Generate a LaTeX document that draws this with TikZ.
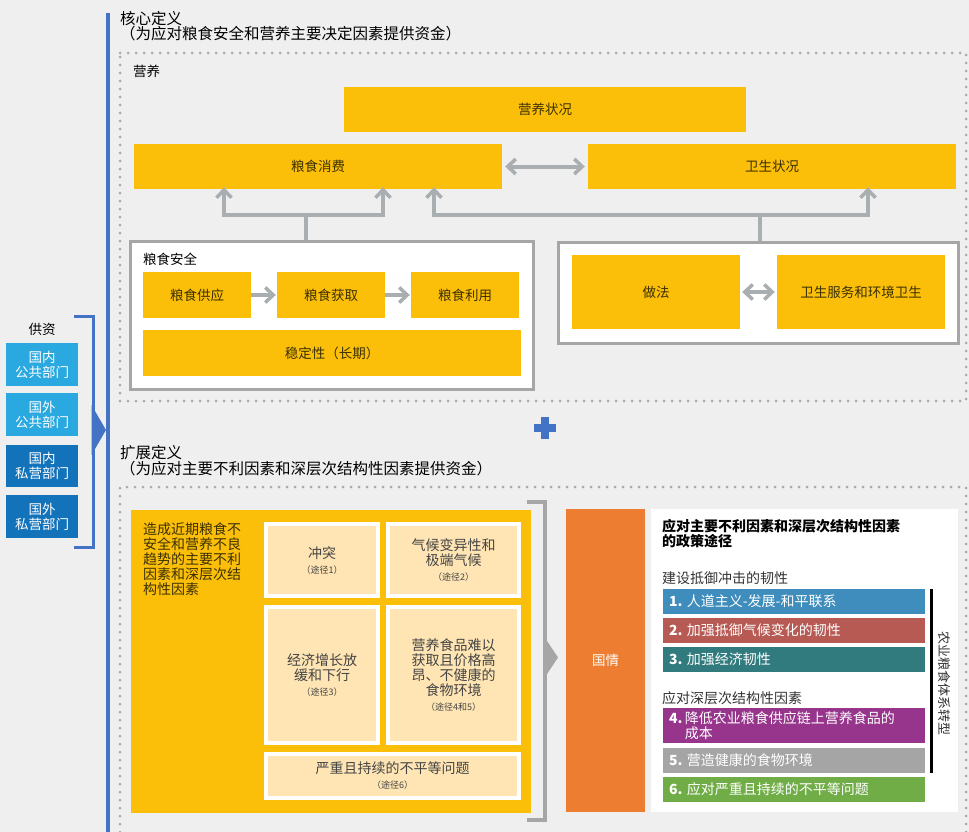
\documentclass[tikz,border=0pt]{standalone}
\usepackage{fontspec}
\setmainfont{Noto Sans CJK SC}
\usetikzlibrary{arrows.meta}
\definecolor{bg}{HTML}{EFEFEF}
\definecolor{gold}{HTML}{FBBF0A}
\definecolor{goldtext}{HTML}{3C3000}
\definecolor{peach}{HTML}{FFE5B4}
\definecolor{peachtext}{HTML}{444444}
\definecolor{arrgrey}{HTML}{A9AEB1}
\definecolor{boxgrey}{HTML}{A6A6A6}
\definecolor{dotgrey}{HTML}{AAAAAA}
\definecolor{fblue}{HTML}{4472C4}
\definecolor{lblue}{HTML}{2AA8E0}
\definecolor{dblue}{HTML}{1272BA}
\definecolor{orng}{HTML}{ED7D31}
\definecolor{cbar1}{HTML}{3E8DBC}
\definecolor{cbar2}{HTML}{B65A53}
\definecolor{cbar3}{HTML}{317B7F}
\definecolor{cbar4}{HTML}{97358C}
\definecolor{cbar5}{HTML}{A5A5A5}
\definecolor{cbar6}{HTML}{70AD47}
\definecolor{darktext}{HTML}{333333}
\newcommand{\pth}[1]{\\[0pt]{\fontsize{9}{10}\selectfont （#1）}}
\tikzset{
  barb/.tip={Straight Barb[length=8pt,width=15pt,line width=3.5pt]},
  ybox/.style={fill=gold, text=goldtext, inner sep=0pt, font=\fontsize{13.5}{15}\selectfont, align=center},
  pbox/.style={fill=peach, draw=white, line width=4pt, text=peachtext, inner sep=0pt, font=\fontsize{14}{15}\selectfont, align=center},
  gframe/.style={fill=white, draw=boxgrey, line width=3pt, inner sep=0pt},
  garrow/.style={draw=arrgrey, line width=4pt, -barb},
  gdarrow/.style={draw=arrgrey, line width=4pt, barb-barb},
  gline/.style={draw=arrgrey, line width=4pt},
  dotline/.style={draw=dotgrey, line width=3pt, line cap=round, dash pattern=on 0pt off 8pt},
  fundbox/.style={inner sep=0pt, minimum width=72pt, minimum height=43pt, text=white, font=\fontsize{13.5}{15}\selectfont, align=center},
  bar/.style={inner sep=0pt, minimum width=262pt, minimum height=25pt},
  bartext/.style={anchor=west, inner sep=0pt, text=white, font=\fontsize{14}{15}\selectfont, align=left},
  title/.style={anchor=west, inner sep=0pt, text=black, font=\fontsize{15.5}{15.5}\selectfont},
  plain/.style={anchor=west, inner sep=0pt, text=darktext, font=\fontsize{13.5}{15}\selectfont},
}
\begin{document}
\begin{tikzpicture}[x=1pt,y=-1pt]
\fill[bg] (0,0) rectangle (969,832);
\useasboundingbox (0,0) rectangle (969,832);

% blue vertical line
\draw[fblue, line width=4pt] (107.5,13) -- (107.5,832);

% titles
\node[title] (t1a) at (120,18.5) {核心定义};
\node[title] (t1b) at (120,34) {（为应对粮食安全和营养主要决定因素提供资金）};
\node[title] (t2a) at (120,453) {扩展定义};
\node[title] (t2b) at (120,468.5) {（为应对主要不利因素和深层次结构性因素提供资金）};

% dotted frames
\draw[dotline] (120,53) -- (966,53) -- (966,401) -- (120,401) -- cycle;
\draw[dotline] (966,840) -- (966,487) -- (120,487) -- (120,840);

\node[plain, text=black] (nlab) at (133,71) {营养};

% nutrition row
\node[ybox, minimum width=402pt, minimum height=45pt] (nutr) at (545,109.5) {营养状况};
\node[ybox, minimum width=368pt, minimum height=45pt] (cons) at (318,166.5) {粮食消费};
\node[ybox, minimum width=368pt, minimum height=45pt] (hlth) at (772,166.5) {卫生状况};
\draw[gdarrow] ([xshift=3pt]cons.east) -- ([xshift=-3pt]hlth.west);

% food security frame
\node[gframe, minimum width=403pt, minimum height=148pt] (fsbox) at (331.5,315) {};
\node[plain, text=black] (fslab) at (143,259) {粮食安全};
\node[ybox, minimum width=108pt, minimum height=46pt] (supply) at (197,295) {粮食供应};
\node[ybox, minimum width=108pt, minimum height=46pt] (access) at (331,295) {粮食获取};
\node[ybox, minimum width=108pt, minimum height=46pt] (util) at (465,295) {粮食利用};
\node[ybox, minimum width=378pt, minimum height=46pt] (stab) at (332,353) {稳定性（长期）};
\draw[garrow] (supply.east) -- ([xshift=-1pt]access.west);
\draw[garrow] (access.east) -- ([xshift=-1pt]util.west);

% practices frame
\node[gframe, minimum width=400pt, minimum height=101pt] (prbox) at (758,292.5) {};
\node[ybox, minimum width=168pt, minimum height=74pt] (prac) at (656,292) {做法};
\node[ybox, minimum width=168pt, minimum height=74pt] (wash) at (861,292) {卫生服务和环境卫生};
\draw[gdarrow] ([xshift=2pt]prac.east) -- ([xshift=-2pt]wash.west);

% up arrows
\coordinate (fj) at (306,215);
\coordinate (pj) at (760,215);
\draw[gline] (fsbox.north -| fj) -- (fj);
\draw[gdarrow] ([yshift=2pt]cons.south -| 224,0) -- (224,215) -- (383,215) -- ([yshift=2pt]cons.south -| 383,0);
\draw[gline] (prbox.north -| pj) -- (pj);
\draw[gdarrow] ([yshift=2pt]cons.south -| 434,0) -- (434,215) -- (868,215) -- ([yshift=2pt]hlth.south -| 868,0);

% plus
\fill[fblue] (534,424) rectangle (556,432);
\fill[fblue] (541,417) rectangle (549,439);

% funding panel
\node[plain, anchor=center, text=black] (fund) at (42,329) {供资};
\node[fundbox, fill=lblue] (f1) at (42,364.5) {国内\\公共部门};
\node[fundbox, fill=lblue] (f2) at (42,414.5) {国外\\公共部门};
\node[fundbox, fill=dblue, minimum height=42pt] (f3) at (42,465.5) {国内\\私营部门};
\node[fundbox, fill=dblue] (f4) at (42,516.5) {国外\\私营部门};
\draw[fblue, line width=3pt] (74,316) -- (93,316) -- (93,547) -- (74,547);
\fill[fblue] (91.5,405) -- (106,430) -- (91.5,455) -- cycle;

% lower section: causes
\node[fill=gold, inner sep=0pt, minimum width=400pt, minimum height=303pt] (cause) at (331,661.5) {};
\node[anchor=north west, inner sep=0pt, text=goldtext, align=left, font=\fontsize{14}{15}\selectfont] (causetxt) at (143,522.5) {造成近期粮食不\\安全和营养不良\\趋势的主要不利\\因素和深层次结\\构性因素};
\node[pbox, minimum width=112pt, minimum height=72pt] (p1) at (322,560) {冲突\pth{途径1}};
\node[pbox, minimum width=131pt, minimum height=72pt] (p2) at (453.5,560) {气候变异性和\\极端气候\pth{途径2}};
\node[pbox, minimum width=112pt, minimum height=136pt] (p3) at (322,675) {经济增长放\\缓和下行\pth{途径3}};
\node[pbox, minimum width=131pt, minimum height=136pt] (p4) at (453.5,675) {营养食品难以\\获取且价格高\\昂、不健康的\\食物环境\pth{途径4和5}};
\node[pbox, minimum width=253pt, minimum height=44pt] (p6) at (392.5,776) {严重且持续的不平等问题\pth{途径6}};

% grey bracket
\draw[boxgrey, line width=4pt] (527,502) -- (545,502) -- (545,820) -- (527,820);
\fill[boxgrey] (543,635) -- (558,657.5) -- (543,680) -- cycle;

% country context
\node[fill=orng, inner sep=0pt, minimum width=79pt, minimum height=303pt, text=white, font=\fontsize{13.5}{15}\selectfont] (ctx) at (605.5,660.5) {国情};

% policy panel
\node[fill=white, inner sep=0pt, minimum width=307pt, minimum height=303pt] (pol) at (804.5,660.5) {};
\node[anchor=north west, inner sep=0pt, text=black, align=left, font=\fontsize{14}{15}\bfseries\selectfont] (poltitle) at (662,519.5) {应对主要不利因素和深层次结构性因素\\的政策途径};
\node[plain, font=\fontsize{14}{15}\selectfont] (sub1) at (662,578) {建设抵御冲击的韧性};
\node[plain, font=\fontsize{14}{15}\selectfont] (sub2) at (662,698) {应对深层次结构性因素};

\node[bar, fill=cbar1] (b1) at (794,601.5) {};
\node[bar, fill=cbar2] (b2) at (794,630.5) {};
\node[bar, fill=cbar3] (b3) at (794,659.5) {};
\node[bar, fill=cbar4, minimum height=35pt] (b4) at (794,725.5) {};
\node[bar, fill=cbar5] (b5) at (794,760.5) {};
\node[bar, fill=cbar6] (b6) at (794,789.5) {};
\node[bartext] (bt1) at (669,601.5) {\textbf{1.} 人道主义-发展-和平联系};
\node[bartext] (bt2) at (669,630.5) {\textbf{2.} 加强抵御气候变化的韧性};
\node[bartext] (bt3) at (669,659.5) {\textbf{3.} 加强经济韧性};
\node[bartext] (bt4) at (669,725.5) {\textbf{4.}\,降低农业粮食供应链上营养食品的\\\hphantom{\textbf{4.}\,}成本};
\node[bartext] (bt5) at (669,760.5) {\textbf{5.} 营造健康的食物环境};
\node[bartext] (bt6) at (669,789.5) {\textbf{6.} 应对严重且持续的不平等问题};

\draw[black, line width=3pt] (931,589) -- (931,773);
\node[rotate=-90, inner sep=0pt, text=darktext, font=\fontsize{13}{15}\selectfont] (vtxt) at (944,683) {农业粮食体系转型};
\end{tikzpicture}
\end{document}
